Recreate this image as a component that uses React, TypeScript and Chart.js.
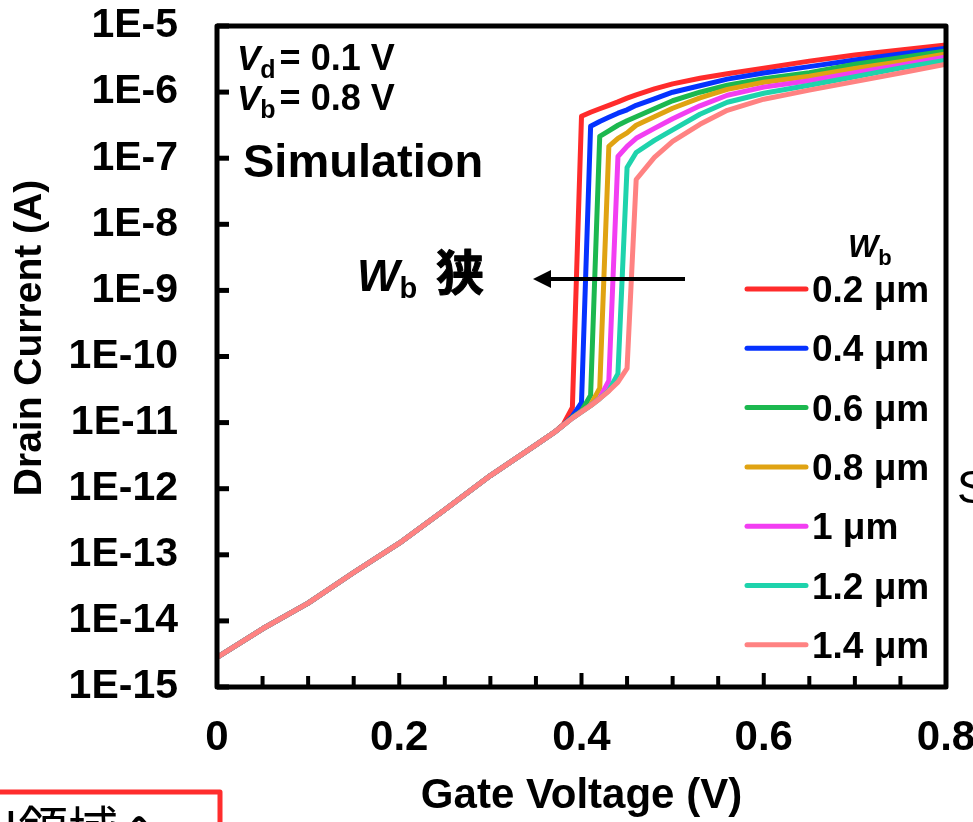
import React, { useEffect, useRef } from "react";
import { Chart, registerables } from "chart.js";

Chart.register(...registerables);

// ---------- data ----------
const gateVoltage = [0, 0.05, 0.1, 0.15, 0.2, 0.25, 0.3, 0.35, 0.37, 0.38, 0.39, 0.4, 0.41, 0.42, 0.43, 0.44, 0.45, 0.46, 0.48, 0.5, 0.53, 0.56, 0.6, 0.65, 0.7, 0.75, 0.8];

const current02 = [2.8e-15, 7.6e-15, 1.86e-14, 5.4e-14, 1.5e-13, 4.8e-13, 1.58e-12, 4.6e-12, 7.1e-12, 9.4e-12, 1.7e-11, 4.3e-7, 4.95e-7, 5.6e-7, 6.3e-7, 7.1e-7, 8.1e-7, 9.1e-7, 1.12e-6, 1.33e-6, 1.62e-6, 1.9e-6, 2.3e-6, 2.94e-6, 3.63e-6, 4.33e-6, 5.15e-6];
const current04 = [2.8e-15, 7.6e-15, 1.86e-14, 5.4e-14, 1.5e-13, 4.8e-13, 1.58e-12, 4.6e-12, 7.1e-12, 9.1e-12, 1.25e-11, 2.0e-11, 3.04e-7, 3.6e-7, 4.16e-7, 4.8e-7, 5.4e-7, 6.3e-7, 7.9e-7, 9.96e-7, 1.25e-6, 1.57e-6, 1.94e-6, 2.43e-6, 3.05e-6, 3.76e-6, 4.6e-6];
const current06 = [2.8e-15, 7.6e-15, 1.86e-14, 5.4e-14, 1.5e-13, 4.8e-13, 1.58e-12, 4.6e-12, 7.1e-12, 9.1e-12, 1.2e-11, 1.5e-11, 2.6e-11, 2.14e-7, 2.6e-7, 3.15e-7, 3.68e-7, 4.23e-7, 5.6e-7, 7.4e-7, 9.96e-7, 1.27e-6, 1.6e-6, 1.97e-6, 2.65e-6, 3.32e-6, 4.18e-6];
const current08 = [2.8e-15, 7.6e-15, 1.86e-14, 5.4e-14, 1.5e-13, 4.8e-13, 1.58e-12, 4.6e-12, 7.1e-12, 9.1e-12, 1.18e-11, 1.48e-11, 1.85e-11, 3.3e-11, 1.51e-7, 2.0e-7, 2.42e-7, 3.15e-7, 4.24e-7, 5.7e-7, 8.2e-7, 1.1e-6, 1.41e-6, 1.74e-6, 2.27e-6, 2.89e-6, 3.76e-6];
const current10 = [2.8e-15, 7.6e-15, 1.86e-14, 5.4e-14, 1.5e-13, 4.8e-13, 1.58e-12, 4.6e-12, 7.1e-12, 9.1e-12, 1.17e-11, 1.46e-11, 1.82e-11, 2.35e-11, 4.3e-11, 1.06e-7, 1.51e-7, 2.0e-7, 2.83e-7, 3.95e-7, 6.2e-7, 8.97e-7, 1.19e-6, 1.49e-6, 1.97e-6, 2.56e-6, 3.39e-6];
const current12 = [2.8e-15, 7.6e-15, 1.86e-14, 5.4e-14, 1.5e-13, 4.8e-13, 1.58e-12, 4.6e-12, 7.1e-12, 9.1e-12, 1.17e-11, 1.45e-11, 1.8e-11, 2.3e-11, 3.05e-11, 5.5e-11, 7.24e-8, 1.22e-7, 1.86e-7, 2.69e-7, 4.62e-7, 7.03e-7, 9.6e-7, 1.27e-6, 1.71e-6, 2.31e-6, 3.05e-6];
const current14 = [2.8e-15, 7.6e-15, 1.86e-14, 5.4e-14, 1.5e-13, 4.8e-13, 1.58e-12, 4.6e-12, 7.1e-12, 9.1e-12, 1.17e-11, 1.45e-11, 1.8e-11, 2.3e-11, 3.0e-11, 4.1e-11, 6.6e-11, 4.76e-8, 1.03e-7, 1.8e-7, 3.26e-7, 5.3e-7, 7.8e-7, 1.07e-6, 1.44e-6, 1.94e-6, 2.65e-6];

const seriesLabels = ["0.2 μm", "0.4 μm", "0.6 μm", "0.8 μm", "1 μm", "1.2 μm", "1.4 μm"];
const seriesColors = ["#ff2b2b", "#0532ff", "#1cb84f", "#e0a312", "#f23ef2", "#1ed3ac", "#ff8282"];
const seriesValues = [current02, current04, current06, current08, current10, current12, current14];

const xTickValues = [0, 0.2, 0.4, 0.6, 0.8];
const xTickLabels = ["0", "0.2", "0.4", "0.6", "0.8"];
const xMinorTickValues = [0.05, 0.1, 0.15, 0.2, 0.25, 0.3, 0.35, 0.4, 0.45, 0.5, 0.55, 0.6, 0.65, 0.7, 0.75];
const yTickValues = [1e-15, 1e-14, 1e-13, 1e-12, 1e-11, 1e-10, 1e-9, 1e-8, 1e-7, 1e-6, 1e-5];
const yTickLabels = ["1E-15", "1E-14", "1E-13", "1E-12", "1E-11", "1E-10", "1E-9", "1E-8", "1E-7", "1E-6", "1E-5"];

const xTitle = "Gate Voltage (V)";
const yTitle = "Drain Current (A)";

// ---------- style ----------
const FONT = "'Liberation Sans', Arial, sans-serif";
const CJK = "'Noto Sans CJK JP', 'Noto Sans CJK SC', sans-serif";

type Seg = { t: string; f: string; dy?: number; gap?: number };
function drawRich(ctx: CanvasRenderingContext2D, x: number, y: number, segs: Seg[]) {
  let cx = x;
  for (const s of segs) {
    cx += s.gap || 0;
    ctx.font = s.f;
    ctx.fillText(s.t, cx, y + (s.dy || 0));
    cx += ctx.measureText(s.t).width;
  }
}

const decorPlugin = {
  id: "decor",
  afterDraw(chart: any) {
    const { ctx, chartArea: a, scales } = chart;
    const x = scales.x;
    const y = scales.y;
    ctx.save();
    ctx.strokeStyle = "#000";
    ctx.fillStyle = "#000";
    ctx.lineCap = "butt";

    // x tick marks (inward)
    ctx.lineWidth = 4;
    for (const v of xMinorTickValues) {
      const px = x.getPixelForValue(v);
      const major = Math.abs(v * 5 - Math.round(v * 5)) < 1e-9;
      ctx.beginPath();
      ctx.moveTo(px, a.bottom);
      ctx.lineTo(px, a.bottom - (major ? 14 : 11));
      ctx.stroke();
    }
    // y tick marks (inward)
    ctx.lineWidth = 5;
    for (const v of yTickValues) {
      const py = y.getPixelForValue(v);
      ctx.beginPath();
      ctx.moveTo(a.left, py);
      ctx.lineTo(a.left + 12, py);
      ctx.stroke();
    }
    // frame
    ctx.lineWidth = 5;
    ctx.lineJoin = "round";
    ctx.strokeRect(a.left, a.top, a.right - a.left, a.bottom - a.top);

    // y title
    ctx.save();
    ctx.translate(30, 338);
    ctx.rotate(-Math.PI / 2);
    ctx.textAlign = "center";
    ctx.textBaseline = "middle";
    ctx.font = `bold 39px ${FONT}`;
    ctx.fillText(yTitle, 0, 0);
    ctx.restore();

    ctx.textAlign = "left";
    ctx.textBaseline = "alphabetic";
    // conditions
    drawRich(ctx, 237, 70, [
      { t: "V", f: `italic bold 35px ${FONT}` },
      { t: "d", f: `bold 25px ${FONT}`, dy: 8 },
      { t: "= 0.1 V", f: `bold 36px ${FONT}`, gap: 4 },
    ]);
    drawRich(ctx, 237, 110, [
      { t: "V", f: `italic bold 35px ${FONT}` },
      { t: "b", f: `bold 25px ${FONT}`, dy: 8 },
      { t: "= 0.8 V", f: `bold 36px ${FONT}`, gap: 4 },
    ]);
    ctx.font = `bold 47px ${FONT}`;
    ctx.fillText("Simulation", 243, 177);

    // arrow
    ctx.lineWidth = 4;
    ctx.beginPath();
    ctx.moveTo(685, 279);
    ctx.lineTo(546, 279);
    ctx.stroke();
    ctx.beginPath();
    ctx.moveTo(533, 279);
    ctx.lineTo(551, 270);
    ctx.lineTo(551, 288);
    ctx.closePath();
    ctx.fill();
    drawRich(ctx, 357, 291, [
      { t: "W", f: `italic bold 45px ${FONT}` },
      { t: "b", f: `bold 29px ${FONT}`, dy: 7 },
    ]);
    ctx.font = `bold 48px ${CJK}`;
    ctx.fillText("狭", 436, 290);
    ctx.lineWidth = 1;
    ctx.strokeText("狭", 436, 290);

    // legend
    drawRich(ctx, 848, 257, [
      { t: "W", f: `italic bold 32px ${FONT}` },
      { t: "b", f: `bold 22px ${FONT}`, dy: 8 },
    ]);
    const ds = chart.data.datasets;
    ds.forEach((d: any, i: number) => {
      const ly = 289 + i * 59.3;
      ctx.strokeStyle = d.borderColor;
      ctx.lineWidth = 5;
      ctx.lineCap = "round";
      ctx.beginPath();
      ctx.moveTo(747, ly);
      ctx.lineTo(806, ly);
      ctx.stroke();
      ctx.font = `bold 37px ${FONT}`;
      ctx.fillText(d.label, 812, ly + 13);
    });

    // cropped neighbours of the original figure
    ctx.lineCap = "butt";
    ctx.fillStyle = "#000";
    ctx.font = `46px ${FONT}`;
    ctx.fillText("S", 957, 503);
    ctx.strokeStyle = "#ff2d2d";
    ctx.lineWidth = 5;
    ctx.lineJoin = "round";
    ctx.strokeRect(-20, 792, 240, 60);
    ctx.font = `50px ${CJK}`;
    ctx.fillText("N領域へ", -18, 848);
    ctx.restore();
  },
};

export default function App() {
  const ref = useRef<HTMLCanvasElement | null>(null);
  useEffect(() => {
    const canvas = ref.current;
    if (!canvas) return;
    const chart = new Chart(canvas, {
      type: "line",
      data: {
        datasets: seriesValues.map((vals, i) => ({
          label: seriesLabels[i],
          data: gateVoltage.map((v, j) => ({ x: v, y: vals[j] })),
          borderColor: seriesColors[i],
          backgroundColor: seriesColors[i],
          borderWidth: 5,
          pointRadius: 0,
          tension: 0,
          fill: false,
          borderJoinStyle: "round" as const,
          borderCapStyle: "round" as const,
          order: seriesValues.length - 1 - i,
        })),
      },
      options: {
        responsive: false,
        animation: false,
        events: [],
        layout: { padding: { left: 0, top: 26, right: 27, bottom: 0 } },
        plugins: { legend: { display: false }, tooltip: { enabled: false } },
        scales: {
          x: {
            type: "linear",
            min: 0,
            max: 0.8,
            grid: { display: false, drawTicks: false },
            border: { display: false },
            afterBuildTicks: (s: any) => {
              s.ticks = xTickValues.map((v) => ({ value: v }));
            },
            ticks: {
              autoSkip: false,
              maxRotation: 0,
              padding: 26,
              color: "#000",
              font: { family: FONT, size: 42, weight: "bold" as const },
              callback: (_v: any, i: number) => xTickLabels[i],
            },
            title: {
              display: true,
              text: xTitle,
              color: "#000",
              font: { family: FONT, size: 42, weight: "bold" as const },
              padding: 0,
            },
            afterFit: (s: any) => {
              s.height = 135;
              s.paddingLeft = 0;
              s.paddingRight = 0;
            },
          },
          y: {
            type: "logarithmic",
            min: 1e-15,
            max: 1e-5,
            grid: { display: false, drawTicks: false },
            border: { display: false },
            afterBuildTicks: (s: any) => {
              s.ticks = yTickValues.map((v) => ({ value: v }));
            },
            ticks: {
              autoSkip: false,
              padding: 39,
              color: "#000",
              font: { family: FONT, size: 41, weight: "bold" as const },
              callback: (_v: any, i: number) => yTickLabels[i],
            },
            afterFit: (s: any) => {
              s.width = 217;
              s.paddingTop = 0;
              s.paddingBottom = 0;
            },
          },
        },
      },
      plugins: [decorPlugin],
    });
    return () => chart.destroy();
  }, []);
  return (
    <div style={{ position: "fixed", left: 0, top: 0, width: 973, height: 822, overflow: "hidden", background: "#fff" }}>
      <canvas ref={ref} width={973} height={822} style={{ display: "block" }} />
    </div>
  );
}
